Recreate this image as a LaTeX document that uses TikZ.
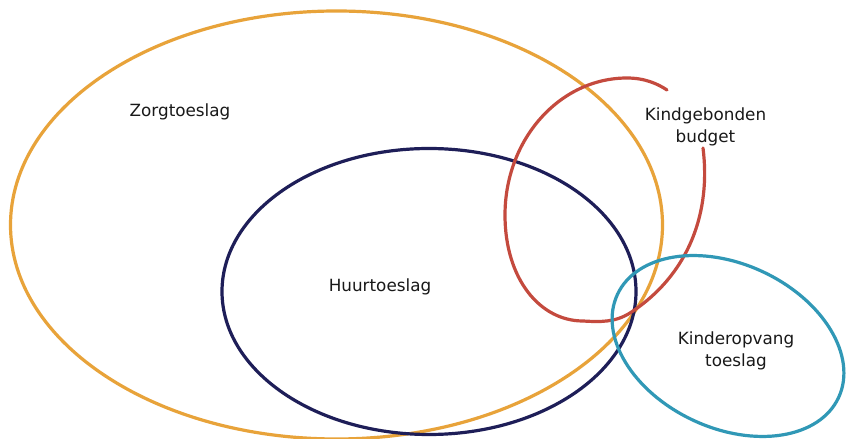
\documentclass[tikz,border=0pt]{standalone}
\usepackage{fontspec}
\setmainfont{DejaVu Sans}
\definecolor{zorg}{RGB}{232,163,58}
\definecolor{huur}{RGB}{30,30,88}
\definecolor{kgb}{RGB}{196,74,62}
\definecolor{kot}{RGB}{48,152,182}
\begin{document}
\begin{tikzpicture}[x=1pt,y=1pt,
  ring/.style={line width=3.2pt},
  lbl/.style={font=\fontsize{16.8}{22}\selectfont, text=black!90, align=center, inner sep=0pt}]
\useasboundingbox (0,0) rectangle (846,439);
\fill[white] (0,0) rectangle (846,439);
\draw[ring, zorg] (336.5,214) ellipse [x radius=326, y radius=214];
\draw[ring, huur] (429,147.5) ellipse [x radius=207, y radius=143];
\draw[ring, kgb, line cap=round] (703,291)
  .. controls (711,228) and (690,165) .. (630,126)
  .. controls (615,116.5) and (600,117) .. (583,118)
  .. controls (540,118) and (505,160) .. (505,224)
  .. controls (505,300) and (560,361) .. (627,361)
  .. controls (645,361) and (658,355) .. (667,349);
\draw[ring, kot] (728,93) ellipse [x radius=122, y radius=82, rotate=-25];
\node[lbl, anchor=base] (zorgl) at (180,322) {Zorgtoeslag};
\node[lbl, anchor=base] (huurl) at (380,147) {Huurtoeslag};
\node[lbl] (kgbl) at (705.5,312.4) {Kindgebonden\\budget};
\node[lbl] (kotl) at (736,88.4) {Kinderopvang\\toeslag};
\end{tikzpicture}
\end{document}
